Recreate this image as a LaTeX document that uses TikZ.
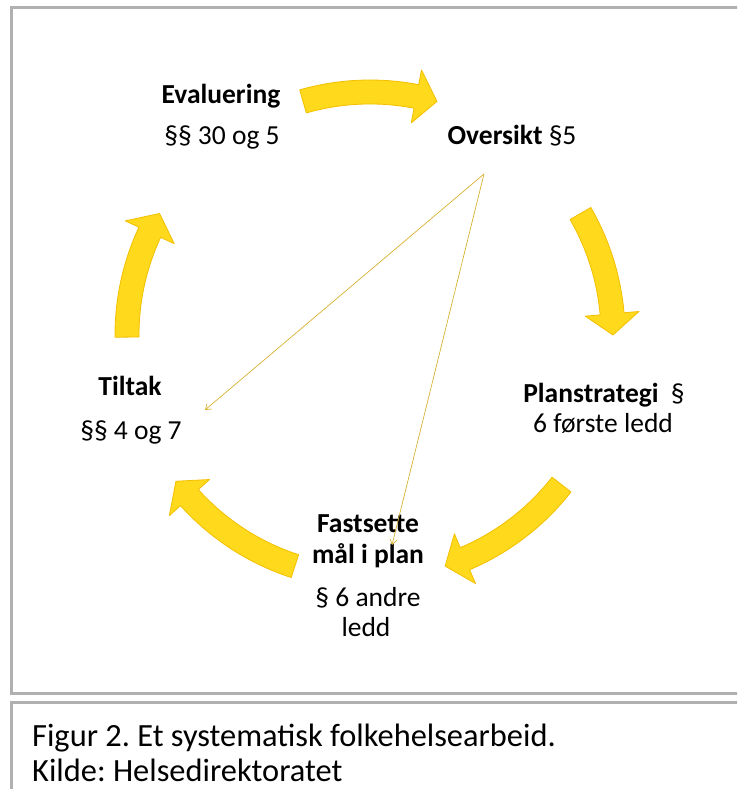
\documentclass[tikz,border=0pt]{standalone}
\usepackage{fontspec}
\setmainfont{Carlito}
\usetikzlibrary{arrows.meta}
\definecolor{framegray}{HTML}{B0B0B0}
\definecolor{ylw}{HTML}{FFD91C}
\definecolor{ylwedge}{HTML}{F3BF00}
\definecolor{thinline}{HTML}{D8B232}
\newcommand{\cyclearrow}[3]{%
  \filldraw[fill=ylw, draw=ylwedge, line width=0.8pt, line join=round]
    (#1:255) arc[start angle=#1, end angle=#2, radius=255]
    -- (#2:270) -- (#3:243) -- (#2:216) -- (#2:231)
    arc[start angle=#2, end angle=#1, radius=231] -- cycle;}
\begin{document}
\frenchspacing
\begin{tikzpicture}[x=1pt,y=1pt,
  lbl/.style={font=\fontsize{27.5}{30}\selectfont, inner sep=0pt, anchor=base},
  captiontext/.style={font=\fontsize{32.4}{36}\selectfont, inner sep=0pt, anchor=base west},
  frameline/.style={draw=framegray, line width=3pt},
  thinarrow/.style={draw=thinline, line width=0.7pt, -{Straight Barb[length=5pt,width=7pt]}}]
\useasboundingbox (0,0) rectangle (737,789);
\clip (0,0) rectangle (737,789);
% frames
\draw[frameline] (11,95.5) rectangle (770,781.3);
\draw[frameline] (11,-30) rectangle (770,86.5);
% cycle arrows
\begin{scope}[shift={(370,454)}]
  \cyclearrow{106}{79}{74}
  \cyclearrow{30}{5}{0}
  \cyclearrow{-38}{-67}{-72}
  \cyclearrow{-108}{-138}{-143}
  \cyclearrow{180.5}{155}{150}
\end{scope}
% labels
\node[lbl] (eval) at (221,685.5) {\textbf{Evaluering}};
\node[lbl] (evalref) at (222,644) {§§ 30 og 5};
\node[lbl] (overs) at (512,644) {\textbf{Oversikt} §5};
\node[lbl] (plan) at (604,386) {\textbf{Planstrategi}\hspace{0.45em}§};
\node[lbl] (planref) at (603,356) {6 første ledd};
\node[lbl] (tiltak) at (130,393) {\textbf{Tiltak}};
\node[lbl] (tiltakref) at (131,349.7) {§§ 4 og 7};
\node[lbl] (fast1) at (368,256) {\textbf{Fastsette}};
\node[lbl] (fast2) at (368,225) {\textbf{mål i plan}};
\node[lbl] (fast3) at (368,182) {§ 6 andre};
\node[lbl] (fast4) at (366,152) {ledd};
% thin connectors
\coordinate (src) at (484,615);
\coordinate (tiltakend) at (205,379);
\coordinate (fastend) at (392,244);
\draw[thinarrow] (src) -- (tiltakend);
\draw[thinarrow] (src) -- (fastend);
% caption
\node[captiontext] (caption1) at (32,42) {Figur 2. Et systematisk folkehelsearbeid.};
\node[captiontext] (caption2) at (32,7) {Kilde: Helsedirektoratet};
\end{tikzpicture}
\end{document}
